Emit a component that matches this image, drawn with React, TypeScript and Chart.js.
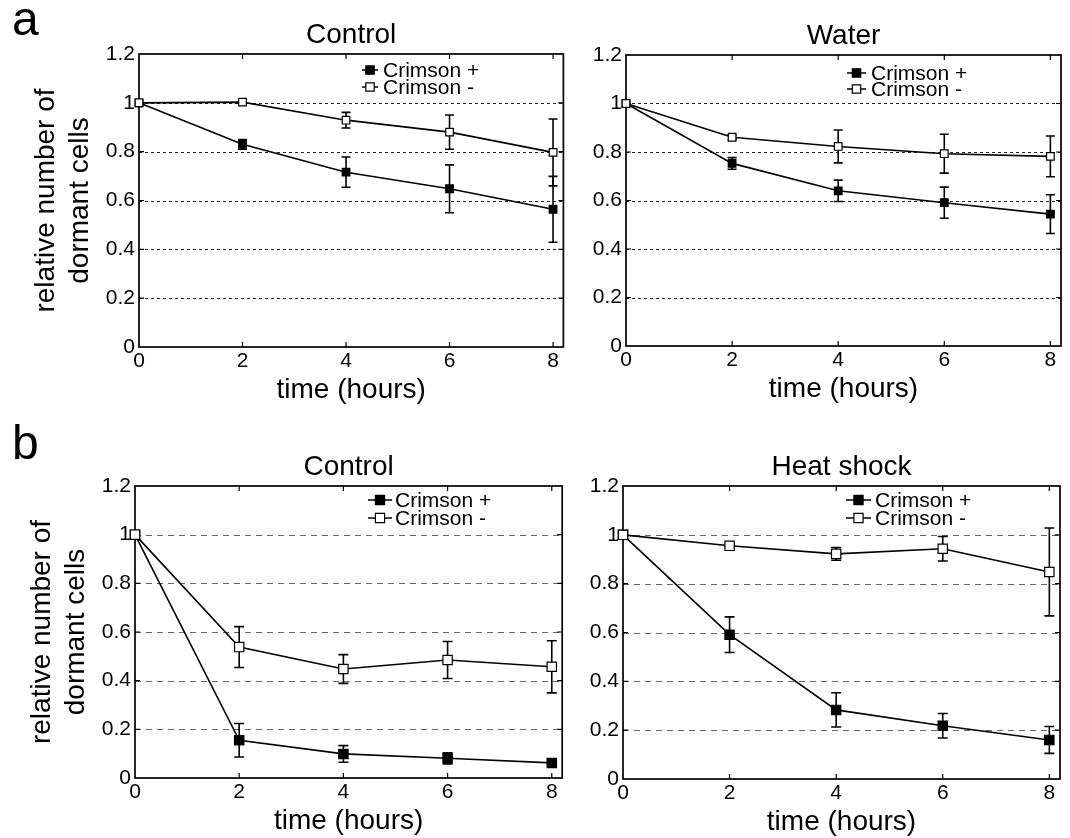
import React, { useEffect, useRef } from 'react';
import { Chart, registerables } from 'chart.js';

Chart.register(...registerables);

const FONT = '"Liberation Sans", Arial, Helvetica, sans-serif';

// ---------- data ----------
const hours = [0, 2, 4, 6, 8];
const xTickValues = [0, 2, 4, 6, 8];
const yTickValues = [0, 0.2, 0.4, 0.6, 0.8, 1, 1.2];
const yTickLabels = ['0', '0.2', '0.4', '0.6', '0.8', '1', '1.2'];
const seriesNames = ['Crimson +', 'Crimson -'];
const panelTitles = ['Control', 'Water', 'Control', 'Heat shock'];
const panelLetters = ['a', 'b'];
const xAxisTitle = 'time (hours)';
const yAxisTitleLines = ['relative number of', 'dormant cells'];

// panel a, Control
const aControlPlus = [1.0, 0.83, 0.716, 0.648, 0.564];
const aControlPlusErr = [0, 0.02, 0.062, 0.098, 0.135];
const aControlMinus = [1.0, 1.003, 0.929, 0.88, 0.797];
const aControlMinusErr = [0, 0.005, 0.032, 0.07, 0.137];
// panel a, Water
const aWaterPlus = [1.0, 0.753, 0.64, 0.591, 0.544];
const aWaterPlusErr = [0, 0.024, 0.044, 0.064, 0.08];
const aWaterMinus = [1.0, 0.861, 0.823, 0.793, 0.782];
const aWaterMinusErr = [0, 0.01, 0.068, 0.08, 0.084];
// panel b, Control
const bControlPlus = [1.0, 0.155, 0.099, 0.081, 0.062];
const bControlPlusErr = [0, 0.069, 0.034, 0.023, 0.005];
const bControlMinus = [1.0, 0.538, 0.448, 0.485, 0.457];
const bControlMinusErr = [0, 0.084, 0.059, 0.076, 0.107];
// panel b, Heat shock
const bHeatPlus = [1.0, 0.591, 0.283, 0.218, 0.16];
const bHeatPlusErr = [0, 0.073, 0.07, 0.05, 0.055];
const bHeatMinus = [1.0, 0.955, 0.922, 0.943, 0.848];
const bHeatMinusErr = [0, 0.005, 0.026, 0.05, 0.18];

// ---------- layout / style specs ----------
type Spec = {
  left: number; top: number; width: number; height: number;
  title: string; letter?: string; letterY?: number; yTitle: boolean;
  plus: number[]; plusErr: number[]; minus: number[]; minusErr: number[];
  pad: { left: number; top: number; right: number; bottom: number };
  yW: number; xH: number;
  gridDash: number[]; gridColor: string; markerR: number; cap: number;
  legend: { l0: number; l1: number; tx: number; y1: number; y2: number; r: number };
};

const specs: Spec[] = [
  {
    left: 0, top: 0, width: 570, height: 419, title: panelTitles[0], letter: panelLetters[0], letterY: 35, yTitle: true,
    plus: aControlPlus, plusErr: aControlPlusErr, minus: aControlMinus, minusErr: aControlMinusErr,
    pad: { left: 0, top: 54, right: 4, bottom: 42 }, yW: 139, xH: 30,
    gridDash: [3, 3], gridColor: '#222', markerR: 5.4, cap: 4.5,
    legend: { l0: 223, l1: 239, tx: 244, y1: 16, y2: 33, r: 4.2 },
  },
  {
    left: 570, top: 0, width: 500, height: 419, title: panelTitles[1], yTitle: false,
    plus: aWaterPlus, plusErr: aWaterPlusErr, minus: aWaterMinus, minusErr: aWaterMinusErr,
    pad: { left: 0, top: 55, right: 9, bottom: 43 }, yW: 56, xH: 30,
    gridDash: [3, 3], gridColor: '#222', markerR: 5.4, cap: 4.5,
    legend: { l0: 221, l1: 240, tx: 245, y1: 18, y2: 34, r: 4.2 },
  },
  {
    left: 0, top: 419, width: 570, height: 419, title: panelTitles[2], letter: panelLetters[1], letterY: 40, yTitle: true,
    plus: bControlPlus, plusErr: bControlPlusErr, minus: bControlMinus, minusErr: bControlMinusErr,
    pad: { left: 0, top: 67, right: 6, bottom: 30 }, yW: 135, xH: 30,
    gridDash: [6, 5], gridColor: '#666', markerR: 6.6, cap: 5,
    legend: { l0: 233, l1: 257, tx: 260, y1: 14, y2: 32, r: 4.6 },
  },
  {
    left: 570, top: 419, width: 500, height: 419, title: panelTitles[3], yTitle: false,
    plus: bHeatPlus, plusErr: bHeatPlusErr, minus: bHeatMinus, minusErr: bHeatMinusErr,
    pad: { left: 0, top: 67, right: 10, bottom: 29 }, yW: 53, xH: 30,
    gridDash: [6, 5], gridColor: '#666', markerR: 6.6, cap: 5,
    legend: { l0: 223, l1: 248, tx: 252, y1: 14, y2: 32, r: 4.6 },
  },
];

function drawSquare(ctx: CanvasRenderingContext2D, x: number, y: number, half: number, filled: boolean) {
  ctx.beginPath();
  ctx.rect(x - half, y - half, half * 2, half * 2);
  ctx.fillStyle = filled ? '#000' : '#fff';
  ctx.fill();
  ctx.lineWidth = 1.2;
  ctx.strokeStyle = '#000';
  ctx.stroke();
}

function makeDecor(spec: Spec) {
  return {
    id: 'matlabDecor',
    beforeDatasetsDraw(chart: any) {
      const { ctx, chartArea: ca, scales } = chart;
      const y = scales.y;
      const x = scales.x;
      ctx.save();
      // dashed horizontal grid
      ctx.strokeStyle = spec.gridColor;
      ctx.lineWidth = 1;
      ctx.setLineDash(spec.gridDash);
      for (const v of yTickValues) {
        if (v <= 0 || v >= 1.2) continue;
        const py = Math.round(y.getPixelForValue(v)) + 0.5;
        ctx.beginPath();
        ctx.moveTo(ca.left, py);
        ctx.lineTo(ca.right, py);
        ctx.stroke();
      }
      ctx.setLineDash([]);
      // frame
      ctx.strokeStyle = '#000';
      ctx.lineWidth = 1.7;
      ctx.strokeRect(ca.left, ca.top, ca.right - ca.left, ca.bottom - ca.top);
      // inward ticks
      ctx.lineWidth = 1.2;
      const tl = 5;
      for (const v of xTickValues) {
        if (v === 0) continue;
        const px = x.getPixelForValue(v);
        ctx.beginPath();
        ctx.moveTo(px, ca.bottom); ctx.lineTo(px, ca.bottom - tl);
        ctx.moveTo(px, ca.top); ctx.lineTo(px, ca.top + tl);
        ctx.stroke();
      }
      for (const v of yTickValues) {
        if (v <= 0 || v >= 1.2) continue;
        const py = y.getPixelForValue(v);
        ctx.beginPath();
        ctx.moveTo(ca.left, py); ctx.lineTo(ca.left + tl, py);
        ctx.moveTo(ca.right, py); ctx.lineTo(ca.right - tl, py);
        ctx.stroke();
      }
      // error bars
      ctx.lineWidth = 1.6;
      ctx.strokeStyle = '#000';
      chart.data.datasets.forEach((ds: any, di: number) => {
        const meta = chart.getDatasetMeta(di);
        const errs: number[] = ds.errors;
        if (!errs) return;
        meta.data.forEach((pt: any, i: number) => {
          const e = errs[i];
          if (!e) return;
          const v = ds.data[i].y;
          const yT = y.getPixelForValue(v + e);
          const yB = y.getPixelForValue(v - e);
          const px = pt.x;
          ctx.beginPath();
          ctx.moveTo(px, yT); ctx.lineTo(px, yB);
          ctx.moveTo(px - spec.cap, yT); ctx.lineTo(px + spec.cap, yT);
          ctx.moveTo(px - spec.cap, yB); ctx.lineTo(px + spec.cap, yB);
          ctx.stroke();
        });
      });
      ctx.restore();
    },
    afterDraw(chart: any) {
      const { ctx, chartArea: ca } = chart;
      ctx.save();
      ctx.fillStyle = '#000';
      // title
      ctx.font = `28px ${FONT}`;
      ctx.textAlign = 'center';
      ctx.textBaseline = 'middle';
      ctx.fillText(spec.title, (ca.left + ca.right) / 2, ca.top - 19);
      // x axis title
      ctx.fillText(xAxisTitle, (ca.left + ca.right) / 2, ca.bottom + 43);
      // y axis title
      if (spec.yTitle) {
        const cy = (ca.top + ca.bottom) / 2;
        const xs = [ca.left - 93, ca.left - 59];
        yAxisTitleLines.forEach((line, i) => {
          ctx.save();
          ctx.translate(xs[i], cy);
          ctx.rotate(-Math.PI / 2);
          ctx.fillText(line, 0, 0);
          ctx.restore();
        });
      }
      // panel letter
      if (spec.letter) {
        ctx.font = `48px ${FONT}`;
        ctx.textAlign = 'left';
        ctx.textBaseline = 'alphabetic';
        ctx.fillText(spec.letter, 12, spec.letterY);
      }
      // legend
      const L = spec.legend;
      ctx.font = `21px ${FONT}`;
      ctx.textAlign = 'left';
      ctx.textBaseline = 'middle';
      [L.y1, L.y2].forEach((yy, i) => {
        const py = ca.top + yy;
        ctx.strokeStyle = '#000';
        ctx.lineWidth = 1.5;
        ctx.beginPath();
        ctx.moveTo(ca.left + L.l0, py);
        ctx.lineTo(ca.left + L.l1, py);
        ctx.stroke();
        drawSquare(ctx, ca.left + (L.l0 + L.l1) / 2, py, L.r, i === 0);
        ctx.fillStyle = '#000';
        ctx.fillText(seriesNames[i], ca.left + L.tx, py + 1);
      });
      ctx.restore();
    },
  };
}

function Panel({ spec }: { spec: Spec }) {
  const ref = useRef<HTMLCanvasElement | null>(null);
  useEffect(() => {
    if (!ref.current) return;
    const toPts = (vals: number[]) => hours.map((h, i) => ({ x: h, y: vals[i] }));
    const chart = new Chart(ref.current, {
      type: 'line',
      data: {
        datasets: [
          {
            label: seriesNames[0],
            data: toPts(spec.plus),
            errors: spec.plusErr,
            borderColor: '#000',
            borderWidth: 1.6,
            pointStyle: 'rect',
            pointRadius: spec.markerR,
            pointBackgroundColor: '#000',
            pointBorderColor: '#000',
            pointBorderWidth: 1.2,
            fill: false,
            tension: 0,
            clip: false,
            order: 1,
          } as any,
          {
            label: seriesNames[1],
            data: toPts(spec.minus),
            errors: spec.minusErr,
            borderColor: '#000',
            borderWidth: 1.6,
            pointStyle: 'rect',
            pointRadius: spec.markerR,
            pointBackgroundColor: '#fff',
            pointBorderColor: '#000',
            pointBorderWidth: 1.2,
            fill: false,
            tension: 0,
            clip: false,
            order: 0,
          } as any,
        ],
      },
      options: {
        animation: false,
        responsive: false,
        devicePixelRatio: 1,
        layout: { padding: spec.pad },
        plugins: { legend: { display: false }, tooltip: { enabled: false }, title: { display: false } },
        events: [],
        scales: {
          x: {
            type: 'linear',
            min: 0,
            max: 8.2,
            afterBuildTicks: (s: any) => { s.ticks = xTickValues.map((v) => ({ value: v })); },
            afterFit: (s: any) => { s.height = spec.xH; },
            grid: { display: false, drawTicks: false },
            border: { display: false },
            ticks: {
              color: '#000',
              font: { family: FONT, size: 21 },
              padding: 2,
              maxRotation: 0,
              autoSkip: false,
              callback: (v: any) => String(v),
            },
          },
          y: {
            type: 'linear',
            min: 0,
            max: 1.2,
            afterBuildTicks: (s: any) => { s.ticks = yTickValues.map((v) => ({ value: v })); },
            afterFit: (s: any) => { s.width = spec.yW; },
            grid: { display: false, drawTicks: false },
            border: { display: false },
            ticks: {
              color: '#000',
              font: { family: FONT, size: 21 },
              padding: 4,
              autoSkip: false,
              callback: (v: any) => {
                const idx = yTickValues.findIndex((t) => Math.abs(t - v) < 1e-9);
                return idx >= 0 ? yTickLabels[idx] : '';
              },
            },
          },
        },
      } as any,
      plugins: [makeDecor(spec)],
    });
    return () => chart.destroy();
  }, [spec]);
  return (
    <canvas
      ref={ref}
      width={spec.width}
      height={spec.height}
      style={{ position: 'absolute', left: spec.left, top: spec.top, width: spec.width, height: spec.height }}
    />
  );
}

export default function App() {
  return (
    <div style={{ position: 'absolute', left: 0, top: 0, width: 1070, height: 838, background: '#fff', overflow: 'hidden' }}>
      {specs.map((s, i) => (
        <Panel key={i} spec={s} />
      ))}
    </div>
  );
}
